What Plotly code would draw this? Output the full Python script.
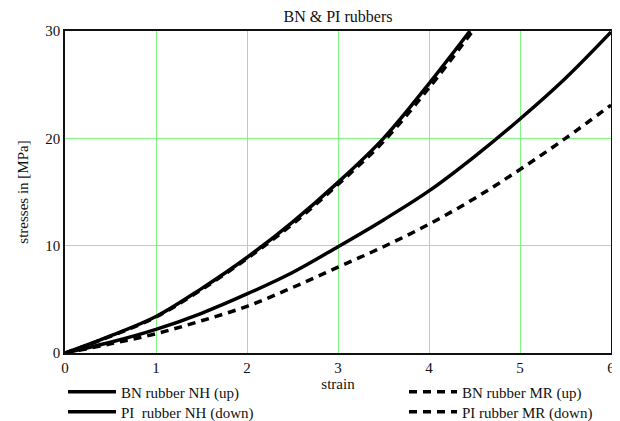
import plotly.graph_objects as go

strain = [0, 0.5, 1, 1.5, 2, 2.5, 3, 3.5, 4, 4.45]
bn_nh = [0, 1.6, 3.4, 6.0, 8.9, 12.2, 15.9, 20.0, 25.1, 30.0]
strain_bn_mr = [0, 0.5, 1, 1.5, 2, 2.5, 3, 3.5, 4, 4.48]
bn_mr = [0, 1.55, 3.35, 5.9, 8.8, 12.0, 15.7, 19.7, 24.7, 30.0]
strain_pi = [0, 0.5, 1, 1.5, 2, 2.5, 3, 3.5, 4, 4.5, 5, 5.5, 6]
pi_nh = [0, 1.0, 2.2, 3.7, 5.5, 7.5, 9.9, 12.4, 15.1, 18.3, 21.8, 25.6, 29.9]
pi_mr = [0, 0.85, 1.8, 3.0, 4.35, 6.1, 8.0, 9.9, 12.0, 14.4, 17.1, 20.0, 23.1]

font = "Liberation Serif"
ink = "#111"
# page body has an 8px margin; figure is a bit larger than the window so the
# bottom legends fit inside it without pushing the plot margins
W, H = 620, 440
L, R, T, B = 57, 17, 23, 95
PH = H - T - B
fig = go.Figure()
fig.add_trace(go.Scatter(x=strain, y=bn_nh, mode="lines", name="BN rubber NH (up)",
                         line=dict(color="black", width=3.5, shape="spline"), legend="legend"))
fig.add_trace(go.Scatter(x=strain_bn_mr, y=bn_mr, mode="lines", name="BN rubber MR (up)",
                         line=dict(color="black", width=3.5, shape="spline", dash="8px,6px"), legend="legend2"))
fig.add_trace(go.Scatter(x=strain_pi, y=pi_nh, mode="lines", name="PI  rubber NH (down)",
                         line=dict(color="black", width=3.5, shape="spline"), legend="legend3"))
fig.add_trace(go.Scatter(x=strain_pi, y=pi_mr, mode="lines", name="PI rubber MR (down)",
                         line=dict(color="black", width=3.5, shape="spline", dash="8px,6px"), legend="legend4"))

axis_common = dict(showline=True, linecolor=ink, linewidth=1.5, mirror=True,
                   showgrid=True, gridcolor="#80f580", gridwidth=1, zeroline=False,
                   ticks="", automargin=True,
                   tickfont=dict(family=font, size=15, color=ink))

PW = W - L - R

def leg(xpage, yfig):
    return dict(x=(xpage - 8 - L) / PW, y=(H - B - yfig) / PH, xref="paper", yref="paper",
                xanchor="left", yanchor="middle", orientation="v",
                font=dict(family=font, size=15, color=ink),
                bgcolor="rgba(0,0,0,0)", itemwidth=48)

fig.update_layout(
    width=W, height=H, showlegend=True,
    margin=dict(l=L, r=R, t=T, b=B),
    paper_bgcolor="white", plot_bgcolor="white",
    font=dict(family=font, color=ink),
    title=dict(text="BN & PI rubbers", x=0.5, xanchor="center", xref="paper",
               y=(H - 8) / H, yanchor="middle", yref="container",
               font=dict(family=font, size=16, color=ink)),
    xaxis=dict(range=[0, 6], dtick=1, title=dict(text="strain", standoff=3,
               font=dict(family=font, size=15)), **axis_common),
    yaxis=dict(range=[0, 30], dtick=10, title=dict(text="stresses in [MPa]", standoff=13,
               font=dict(family=font, size=15)), **axis_common),
    legend=leg(63, 384),
    legend2=leg(404, 384),
    legend3=leg(63, 404),
    legend4=leg(404, 404),
)
fig.write_html("out.html")
